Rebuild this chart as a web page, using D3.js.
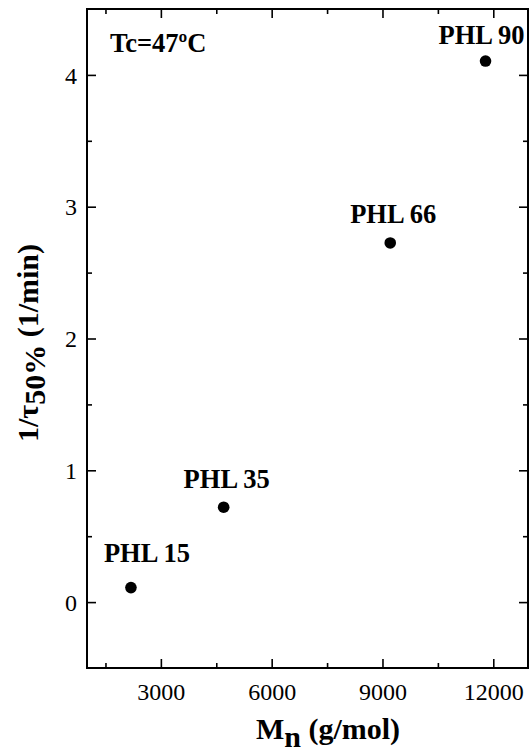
<!DOCTYPE html>
<html>
<head>
<meta charset="utf-8">
<script src="https://cdn.jsdelivr.net/npm/d3@7"></script>
<style>
  html, body { margin: 0; padding: 0; background: #fff; }
  svg { display: block; }
  svg text { font-family: "Liberation Serif", "Times New Roman", Times, serif !important; fill: #000; }
</style>
</head>
<body>
<svg id="chart" width="530" height="756" font-family="Liberation Serif"></svg>
<script>
// ---- data ----
const sampleNames = ["PHL 15", "PHL 35", "PHL 66", "PHL 90"];
const molarMass   = [2190, 4700, 9210, 11790];      // Mn (g/mol)
const invHalfTime = [0.11, 0.72, 2.725, 4.105];     // 1/tau50% (1/min)
const xMajorTicks = [3000, 6000, 9000, 12000];
const xMinorTicks = [1500, 4500, 7500, 10500];
const yMajorTicks = [0, 1, 2, 3, 4];
const yMinorTicks = [0.5, 1.5, 2.5, 3.5];
const annotation  = "Tc=47ºC";
// label offsets (styling)
const labelDx = [16, 3, 3, -4];
const labelDy = [-26, -19, -20, -17];

// ---- layout ----
const svg = d3.select("#chart");
const L = 87, R = 528, T = 9, B = 668;
const x = d3.scaleLinear().domain([1000, 12940]).range([L, R]);
const y = d3.scaleLinear().domain([-0.5, 4.5]).range([B, T]);

const majorLen = 9, minorLen = 5;

function axisGroup(axisFn, scale, ticks, len, tx, ty, showLabels) {
  const g = svg.append("g").attr("transform", `translate(${tx},${ty})`);
  const ax = axisFn(scale).tickValues(ticks).tickSizeInner(len).tickSizeOuter(0)
    .tickFormat(showLabels ? d3.format("d") : "");
  g.call(ax);
  g.attr("font-family", "Liberation Serif");
  g.select(".domain").remove();
  g.selectAll(".tick line").attr("stroke", "#000").attr("stroke-width", 1.6);
  return g;
}

// bottom axis (ticks inward = up)
const gb = axisGroup(d3.axisTop, x, xMajorTicks, majorLen, 0, B, true);
gb.selectAll(".tick text").attr("y", 32).attr("dy", 0)
  .attr("font-size", 24).attr("text-anchor", "middle");
axisGroup(d3.axisTop, x, xMinorTicks, minorLen, 0, B, false);
// top axis (ticks inward = down)
axisGroup(d3.axisBottom, x, xMajorTicks, majorLen, 0, T, false);
axisGroup(d3.axisBottom, x, xMinorTicks, minorLen, 0, T, false);
// left axis (ticks inward = right)
const gl = axisGroup(d3.axisRight, y, yMajorTicks, majorLen, L, 0, true);
gl.selectAll(".tick text").attr("x", -10).attr("dy", "0.34em")
  .attr("font-size", 24).attr("text-anchor", "end");
axisGroup(d3.axisRight, y, yMinorTicks, minorLen, L, 0, false);
// right axis (ticks inward = left)
axisGroup(d3.axisLeft, y, yMajorTicks, majorLen, R, 0, false);
axisGroup(d3.axisLeft, y, yMinorTicks, minorLen, R, 0, false);

// frame
svg.append("rect").attr("x", L).attr("y", T).attr("width", R - L).attr("height", B - T)
  .attr("fill", "none").attr("stroke", "#000").attr("stroke-width", 2);

// points
const pts = sampleNames.map((n, i) => ({ name: n, mx: molarMass[i], v: invHalfTime[i], i }));
svg.append("g").selectAll("circle").data(pts).join("circle")
  .attr("cx", d => x(d.mx)).attr("cy", d => y(d.v)).attr("r", 5.8).attr("fill", "#000");

svg.append("g").selectAll("text").data(pts).join("text")
  .attr("x", d => x(d.mx) + labelDx[d.i]).attr("y", d => y(d.v) + labelDy[d.i])
  .attr("text-anchor", "middle").attr("font-size", 26.5).attr("font-weight", "bold")
  .text(d => d.name);

// annotation
svg.append("text").attr("x", 110).attr("y", 52).attr("font-size", 26.5)
  .attr("font-weight", "bold").text(annotation);

// x title
const xt = svg.append("text").attr("x", 328).attr("y", 739)
  .attr("text-anchor", "middle").attr("font-size", 30).attr("font-weight", "bold");
xt.append("tspan").text("M");
xt.append("tspan").attr("dy", 8).text("n");
xt.append("tspan").attr("dy", -8).text(" (g/mol)");

// y title
const yt = svg.append("text").attr("transform", `translate(38,343) rotate(-90)`)
  .attr("text-anchor", "middle").attr("font-size", 30).attr("font-weight", "bold");
yt.append("tspan").text("1/τ");
yt.append("tspan").attr("dy", 7).text("50%");
yt.append("tspan").attr("dy", -7).text(" (1/min)");
</script>
</body>
</html>
